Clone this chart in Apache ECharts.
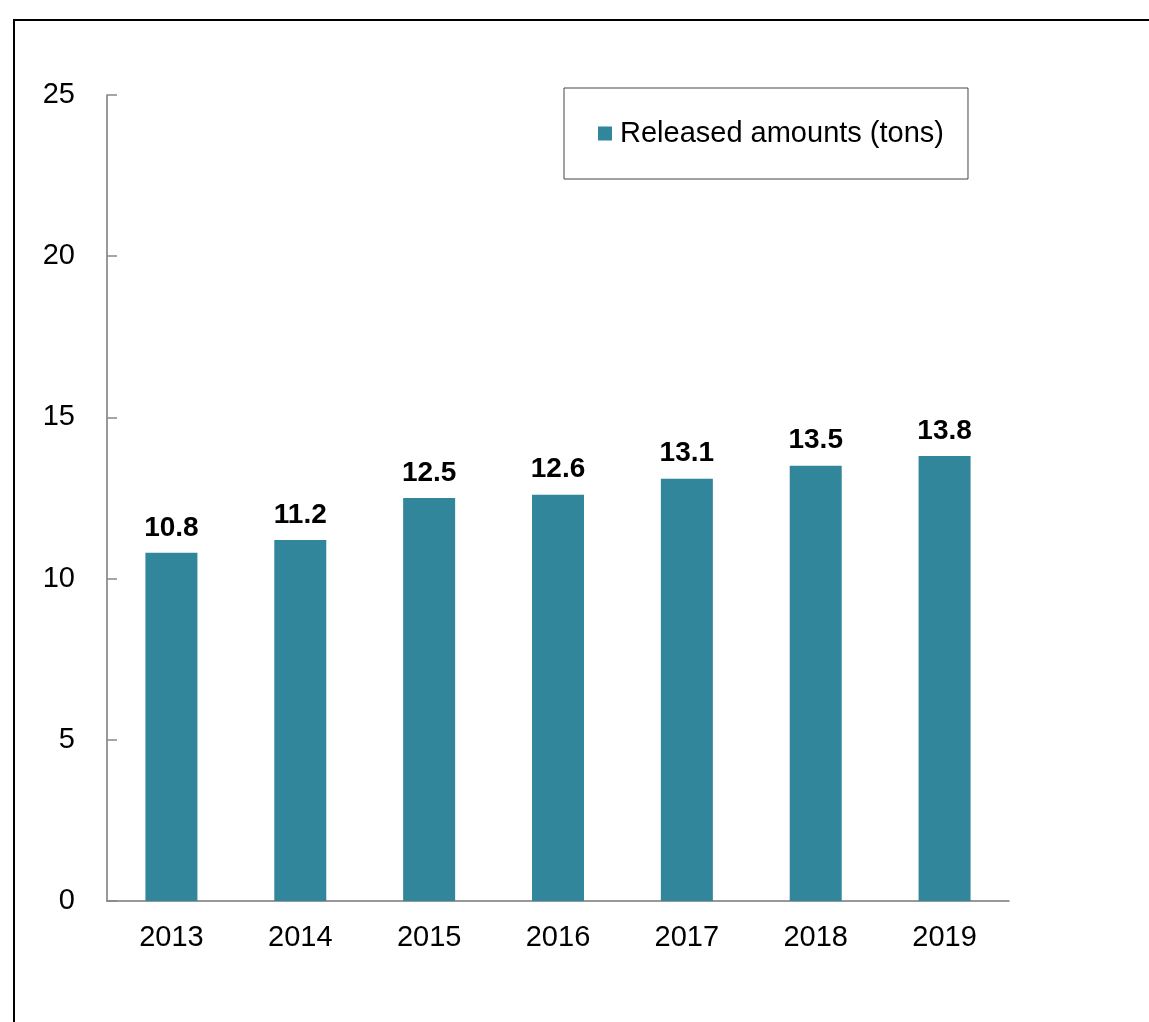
<!DOCTYPE html>
<html>
<head>
<meta charset="utf-8">
<script src="https://cdn.jsdelivr.net/npm/echarts@6/dist/echarts.min.js"></script>
<style>
  html, body { margin: 0; padding: 0; background: #fff; }
  #chart { width: 1149px; height: 1022px; }
</style>
</head>
<body>
<div id="chart"></div>
<script>
  const years = ['2013', '2014', '2015', '2016', '2017', '2018', '2019']
  const released = [10.8, 11.2, 12.5, 12.6, 13.1, 13.5, 13.8]
  const seriesName = 'Released amounts (tons)'

  const font = '"Liberation Sans", Arial, sans-serif'
  const barColor = '#31869c'

  const chart = echarts.init(document.getElementById('chart'))

  chart.setOption({
    animation: false,
    textStyle: { fontFamily: font },
    graphic: [
      {
        type: 'rect',
        shape: { x: 14, y: 20, width: 1300, height: 1200 },
        style: { fill: 'none', stroke: '#000', lineWidth: 2 }
      }
    ],
    legend: {
      data: [seriesName],
      left: 564,
      top: 88,
      width: 405,
      padding: [31, 24, 31, 34],
      borderColor: '#444',
      borderWidth: 1,
      itemWidth: 14,
      itemHeight: 14,
      itemGap: 0,
      icon: 'rect',
      textStyle: { fontSize: 29, color: '#000', fontFamily: font, padding: [0, 0, 0, 3] }
    },
    grid: {
      left: 107,
      right: 140,
      top: 95,
      bottom: 121
    },
    xAxis: {
      type: 'category',
      data: years,
      axisLine: { lineStyle: { color: '#777', width: 1.5 } },
      axisTick: { inside: true, length: 8, lineStyle: { color: '#888', width: 1.5 } },
      axisLabel: { fontSize: 29, color: '#000', margin: 22, fontFamily: font }
    },
    yAxis: {
      type: 'value',
      min: 0,
      max: 25,
      interval: 5,
      splitLine: { show: false },
      axisLine: { show: true, lineStyle: { color: '#777', width: 1.5 } },
      axisTick: { show: true, inside: true, length: 10, lineStyle: { color: '#888', width: 1.5 } },
      axisLabel: { fontSize: 29, color: '#000', margin: 32, fontFamily: font }
    },
    series: [
      {
        name: seriesName,
        type: 'bar',
        data: released,
        barWidth: 52,
        itemStyle: { color: barColor },
        label: {
          show: true,
          position: 'top',
          distance: 11,
          fontSize: 28,
          fontWeight: 'bold',
          color: '#000',
          fontFamily: font,
          formatter: p => p.value.toFixed(1)
        }
      }
    ]
  })
</script>
</body>
</html>
